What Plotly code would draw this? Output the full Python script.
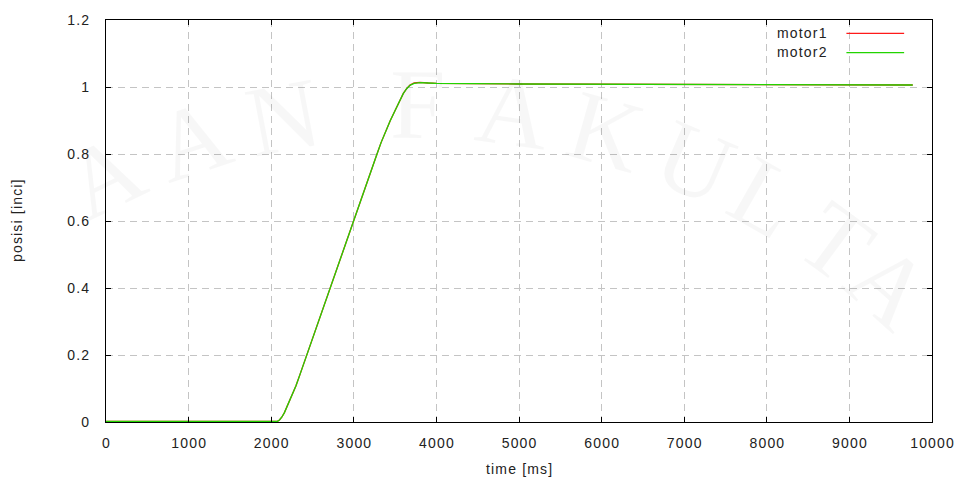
import math
import plotly.graph_objects as go

# ---- data -------------------------------------------------------------
time_m1 = [0, 2050, 2076, 2100, 2130, 2160, 2200, 2250, 2300, 2350, 2430,
           2711, 2992, 3281, 3330, 3380, 3442, 3500, 3562, 3600, 3640,
           3680, 3730, 3800, 3900, 4000, 5000, 6000, 7000, 8000, 9000, 9767]
pos_m1 = [0.002, 0.002, 0.002, 0.006, 0.015, 0.028, 0.05, 0.078, 0.108,
          0.143, 0.2, 0.4, 0.6, 0.8, 0.834, 0.865, 0.9, 0.93, 0.963, 0.981,
          0.995, 1.006, 1.012, 1.014, 1.012, 1.011, 1.009, 1.008, 1.008,
          1.007, 1.007, 1.006]

time_m2 = [0, 2050, 2076, 2100, 2130, 2160, 2200, 2250, 2300, 2350, 2430,
           2711, 2992, 3281, 3330, 3380, 3442, 3500, 3562, 3600, 3640,
           3680, 3730, 3800, 3900, 4000, 5000, 6000, 7000, 8000, 9000, 9767]
pos_m2 = [0.002, 0.002, 0.002, 0.006, 0.015, 0.028, 0.05, 0.078, 0.108,
          0.143, 0.2, 0.4, 0.6, 0.8, 0.834, 0.865, 0.9, 0.93, 0.963, 0.981,
          0.995, 1.005, 1.011, 1.013, 1.012, 1.011, 1.009, 1.008, 1.008,
          1.007, 1.007, 1.006]

series_names = ["motor1", "motor2"]
series_colors = ["#ff1a1a", "#22d400"]

x_ticks = [0, 1000, 2000, 3000, 4000, 5000, 6000, 7000, 8000, 9000, 10000]
y_ticks = [0, 0.2, 0.4, 0.6, 0.8, 1.0, 1.2]
y_tick_text = ["0", "0.2", "0.4", "0.6", "0.8", "1", "1.2"]

x_title = "time [ms]"
y_title = "posisi [inci]"
watermark = "AAN FAKULTA"

HS = "\u200a"  # hair space: loose letter spacing like the gnuplot output


def spaced(s):
    return HS.join(s)


# ---- geometry of the plot box (pixels) --------------------------------
W, H = 966, 489
L, R, T, B = 106, 30, 15, 67
PW, PH = W - L - R, H - T - B


def paper(px, py):
    return (px - L) / PW, (H - B - py) / PH


FONT = "Liberation Sans, Arial, sans-serif"
GRID = "#c4c4c4"

fig = go.Figure()
for t, p, name, col in [(time_m1, pos_m1, series_names[0], series_colors[0]),
                        (time_m2, pos_m2, series_names[1], series_colors[1])]:
    fig.add_trace(go.Scatter(x=t, y=p, mode="lines", name=name,
                             line=dict(color=col, width=1.3),
                             showlegend=False))

axis_common = dict(
    showline=True, linecolor="black", linewidth=1.3, mirror="ticks",
    ticks="inside", ticklen=5, tickcolor="black", tickwidth=1,
    showgrid=True, gridcolor=GRID, gridwidth=1, griddash="7px,5px",
    zeroline=False,
    tickfont=dict(family=FONT, size=14, color="#222222"),
)

fig.update_xaxes(range=[0, 10000], tickvals=x_ticks,
                 ticktext=[spaced(str(v)) for v in x_ticks],
                 ticklabelstandoff=8, **axis_common)
fig.update_yaxes(range=[0, 1.2], tickvals=y_ticks,
                 ticktext=[spaced(s) for s in y_tick_text],
                 ticklabelstandoff=13, **axis_common)

annotations = []
shapes = []

# faint watermark lettering set along an arc
cx, cy, rad = 416, 813, 712
angles = [-26.0, -18.3, -10.7, None, 0.3, 8.0, 15.7, 23.3, 29.7, 36.5, 42.0]
for ch, ang in zip(watermark, angles):
    if ang is None or ch == " ":
        continue
    a = math.radians(ang)
    px = cx + rad * math.sin(a)
    py = cy - rad * math.cos(a)
    xp, yp = paper(px, py)
    annotations.append(dict(
        x=xp, y=yp, xref="paper", yref="paper", text=ch, showarrow=False,
        xanchor="center", yanchor="middle", textangle=ang,
        font=dict(family="Liberation Serif, DejaVu Serif, serif", size=100,
                  color="rgba(0,0,0,0.032)")))

# axis titles
annotations.append(dict(x=0.5, y=0, xref="paper", yref="paper",
                        text=spaced(x_title), showarrow=False,
                        xanchor="center", yanchor="middle", yshift=-47,
                        font=dict(family=FONT, size=14, color="#222222")))
annotations.append(dict(x=0, y=0.5, xref="paper", yref="paper",
                        text=spaced(y_title), showarrow=False, textangle=-90,
                        xanchor="center", yanchor="middle", xshift=-89,
                        font=dict(family=FONT, size=14, color="#222222")))

# key: label on the left, sample line on the right
for i, (name, col) in enumerate(zip(series_names, series_colors)):
    row_y = 28 + i * 19.5
    xt, yt = paper(832, row_y)
    annotations.append(dict(x=xt, y=yt, xref="paper", yref="paper",
                            text=spaced(name), showarrow=False,
                            xanchor="right", yanchor="middle",
                            font=dict(family=FONT, size=14, color="#222222")))
    x0, y0 = paper(850, row_y + 0.5)
    x1, _ = paper(908, row_y + 0.5)
    shapes.append(dict(type="line", xref="paper", yref="paper",
                       x0=x0, x1=x1, y0=y0, y1=y0,
                       line=dict(color=col, width=1.3)))

fig.update_layout(
    width=W, height=H,
    margin=dict(l=L, r=R, t=T, b=B),
    paper_bgcolor="white", plot_bgcolor="white",
    annotations=annotations, shapes=shapes,
    showlegend=False,
)

fig.write_html("out.html")
